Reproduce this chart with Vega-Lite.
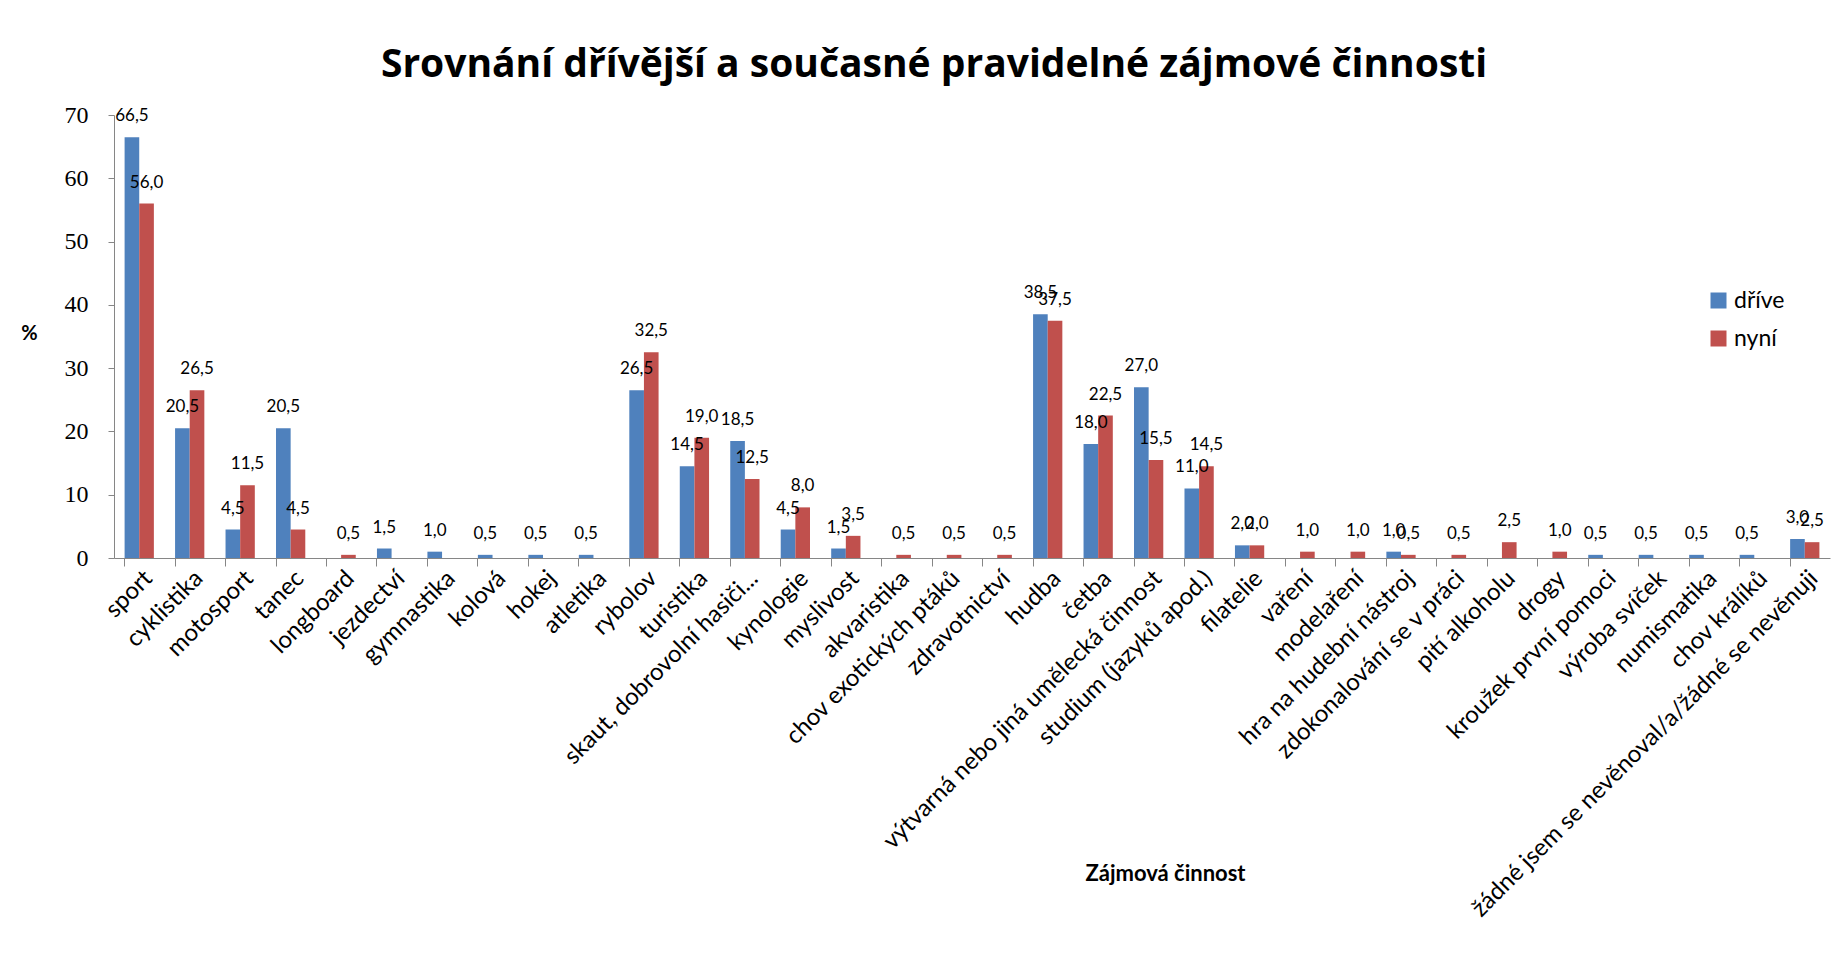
{
  "$schema": "https://vega.github.io/schema/vega-lite/v6.json",
  "autosize": "none",
  "width": 1716,
  "height": 443,
  "padding": {"left": 114, "top": 115, "right": 7, "bottom": 408},
  "background": "white",
  "config": {
    "locale": {"number": {"decimal": ",", "thousands": " ", "grouping": [3], "currency": ["", " Kč"]}},
    "font": "Lato",
    "view": {"stroke": null}
  },
  "title": {
    "text": "Srovnání dřívější a současné pravidelné zájmové činnosti",
    "fontSize": 39,
    "fontWeight": "bold",
    "font": "Open Sans",
    "color": "#000000",
    "anchor": "middle",
    "frame": "group",
    "dx": -38,
    "offset": 18
  },
  "data": {
    "values": [
      {"cat": "sport", "serie": "dříve", "val": 66.5},
      {"cat": "sport", "serie": "nyní", "val": 56.0},
      {"cat": "cyklistika", "serie": "dříve", "val": 20.5},
      {"cat": "cyklistika", "serie": "nyní", "val": 26.5},
      {"cat": "motosport", "serie": "dříve", "val": 4.5},
      {"cat": "motosport", "serie": "nyní", "val": 11.5},
      {"cat": "tanec", "serie": "dříve", "val": 20.5},
      {"cat": "tanec", "serie": "nyní", "val": 4.5},
      {"cat": "longboard", "serie": "nyní", "val": 0.5},
      {"cat": "jezdectví", "serie": "dříve", "val": 1.5},
      {"cat": "gymnastika", "serie": "dříve", "val": 1.0},
      {"cat": "kolová", "serie": "dříve", "val": 0.5},
      {"cat": "hokej", "serie": "dříve", "val": 0.5},
      {"cat": "atletika", "serie": "dříve", "val": 0.5},
      {"cat": "rybolov", "serie": "dříve", "val": 26.5},
      {"cat": "rybolov", "serie": "nyní", "val": 32.5},
      {"cat": "turistika", "serie": "dříve", "val": 14.5},
      {"cat": "turistika", "serie": "nyní", "val": 19.0},
      {"cat": "skaut, dobrovolní hasiči...", "serie": "dříve", "val": 18.5},
      {"cat": "skaut, dobrovolní hasiči...", "serie": "nyní", "val": 12.5},
      {"cat": "kynologie", "serie": "dříve", "val": 4.5},
      {"cat": "kynologie", "serie": "nyní", "val": 8.0},
      {"cat": "myslivost", "serie": "dříve", "val": 1.5},
      {"cat": "myslivost", "serie": "nyní", "val": 3.5},
      {"cat": "akvaristika", "serie": "nyní", "val": 0.5},
      {"cat": "chov exotických ptáků", "serie": "nyní", "val": 0.5},
      {"cat": "zdravotnictví", "serie": "nyní", "val": 0.5},
      {"cat": "hudba", "serie": "dříve", "val": 38.5},
      {"cat": "hudba", "serie": "nyní", "val": 37.5},
      {"cat": "četba", "serie": "dříve", "val": 18.0},
      {"cat": "četba", "serie": "nyní", "val": 22.5},
      {"cat": "výtvarná nebo jiná umělecká činnost", "serie": "dříve", "val": 27.0},
      {"cat": "výtvarná nebo jiná umělecká činnost", "serie": "nyní", "val": 15.5},
      {"cat": "studium (jazyků apod.)", "serie": "dříve", "val": 11.0},
      {"cat": "studium (jazyků apod.)", "serie": "nyní", "val": 14.5},
      {"cat": "filatelie", "serie": "dříve", "val": 2.0},
      {"cat": "filatelie", "serie": "nyní", "val": 2.0},
      {"cat": "vaření", "serie": "nyní", "val": 1.0},
      {"cat": "modelaření", "serie": "nyní", "val": 1.0},
      {"cat": "hra na hudební nástroj", "serie": "dříve", "val": 1.0},
      {"cat": "hra na hudební nástroj", "serie": "nyní", "val": 0.5},
      {"cat": "zdokonalování se v práci", "serie": "nyní", "val": 0.5},
      {"cat": "pití alkoholu", "serie": "nyní", "val": 2.5},
      {"cat": "drogy", "serie": "nyní", "val": 1.0},
      {"cat": "kroužek první pomoci", "serie": "dříve", "val": 0.5},
      {"cat": "výroba svíček", "serie": "dříve", "val": 0.5},
      {"cat": "numismatika", "serie": "dříve", "val": 0.5},
      {"cat": "chov králíků", "serie": "dříve", "val": 0.5},
      {"cat": "žádné jsem se nevěnoval/a/žádné se nevěnuji", "serie": "dříve", "val": 3.0},
      {"cat": "žádné jsem se nevěnoval/a/žádné se nevěnuji", "serie": "nyní", "val": 2.5}
    ]
  },
  "encoding": {
    "x": {
      "field": "cat",
      "type": "nominal",
      "sort": null,
      "scale": {
        "domain": ["sport", "cyklistika", "motosport", "tanec", "longboard", "jezdectví", "gymnastika", "kolová", "hokej", "atletika", "rybolov", "turistika", "skaut, dobrovolní hasiči...", "kynologie", "myslivost", "akvaristika", "chov exotických ptáků", "zdravotnictví", "hudba", "četba", "výtvarná nebo jiná umělecká činnost", "studium (jazyků apod.)", "filatelie", "vaření", "modelaření", "hra na hudební nástroj", "zdokonalování se v práci", "pití alkoholu", "drogy", "kroužek první pomoci", "výroba svíček", "numismatika", "chov králíků", "žádné jsem se nevěnoval/a/žádné se nevěnuji"],
        "paddingInner": 0.42,
        "paddingOuter": 0.21
      },
      "axis": {
        "title": "Zájmová činnost",
        "titleFontSize": 22,
        "titleFontWeight": "bold",
        "titleColor": "#000000",
        "titleX": 1051,
        "titleY": 305,
        "titleAnchor": "middle",
        "titleAlign": "center",
        "labelAngle": -45,
        "labelAlign": "right",
        "labelBaseline": "top",
        "labelFontSize": 24,
        "labelColor": "#000000",
        "labelLimit": 0,
        "labelPadding": 0,
        "labelOffset": 1,
        "labelOverlap": false,
        "bandPosition": 0,
        "tickSize": 8,
        "tickColor": "#868686",
        "domainColor": "#868686",
        "grid": false
      }
    },
    "xOffset": {"field": "serie", "type": "nominal", "scale": {"domain": ["dříve", "nyní"]}},
    "y": {
      "field": "val",
      "type": "quantitative",
      "scale": {"domain": [0, 70]},
      "axis": {
        "title": "%",
        "titleAngle": 0,
        "titleFontSize": 20,
        "titleFontWeight": "bold",
        "titleColor": "#000000",
        "titleX": -85,
        "titleY": 228,
        "titleAlign": "center",
        "values": [0, 10, 20, 30, 40, 50, 60, 70],
        "labelFont": "Liberation Serif",
        "labelFontSize": 24,
        "labelColor": "#000000",
        "labelPadding": 20,
        "tickSize": 6,
        "tickColor": "#868686",
        "domainColor": "#868686",
        "grid": false
      }
    }
  },
  "layer": [
    {
      "mark": {"type": "bar"},
      "encoding": {
        "color": {
          "field": "serie",
          "type": "nominal",
          "scale": {"domain": ["dříve", "nyní"], "range": ["#4F81BD", "#C0504D"]},
          "legend": {
            "title": null,
            "orient": "none",
            "legendX": 1593,
            "legendY": 174,
            "symbolType": "square",
            "symbolSize": 256,
            "symbolStrokeWidth": 0,
            "labelFontSize": 23,
            "labelColor": "#000000",
            "rowPadding": 14,
            "labelOffset": 4
          }
        }
      }
    },
    {
      "mark": {"type": "text", "baseline": "middle", "dy": -21, "fontSize": 17, "color": "#000000"},
      "encoding": {
        "text": {"field": "val", "type": "quantitative", "format": ".1f"}
      }
    }
  ]
}
